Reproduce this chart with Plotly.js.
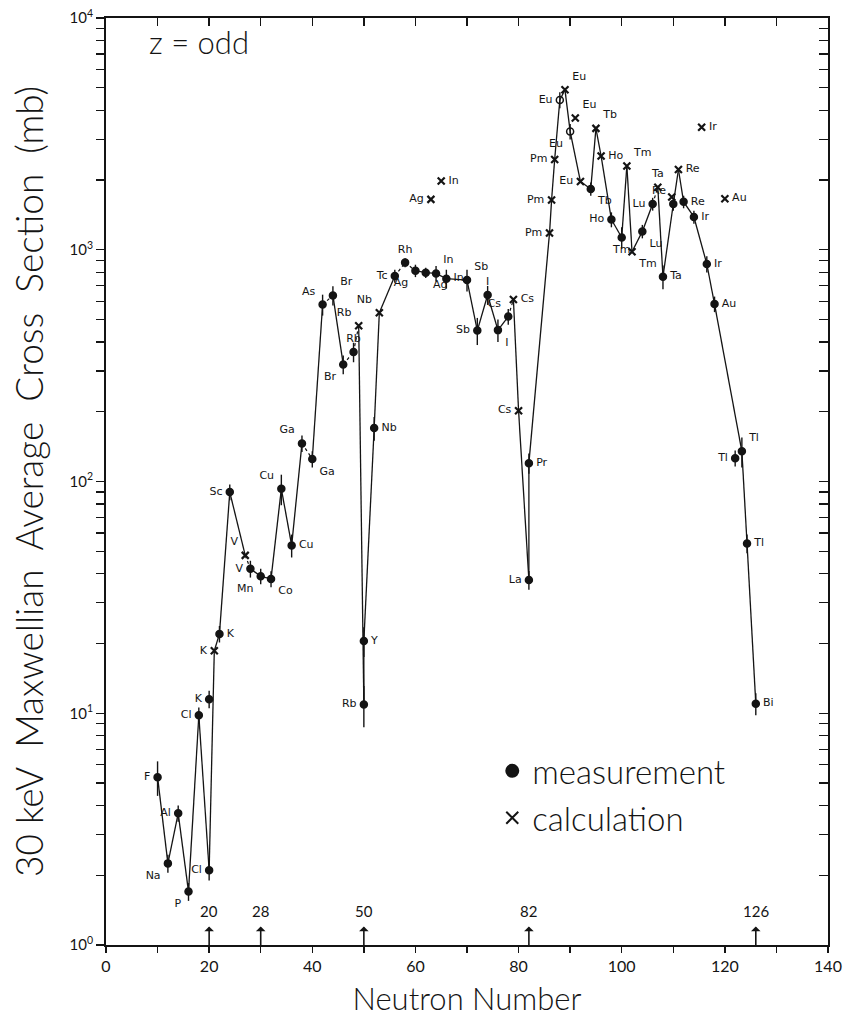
<!DOCTYPE html>
<html><head><meta charset="utf-8">
<script src="https://cdn.plot.ly/plotly-3.0.1.min.js"></script>
<style>html,body{margin:0;padding:0;background:#fff}#chart{width:843px;height:1032px}</style>
</head><body><div id="chart"></div>
<script>
// ---- measurement (filled circle with error bar) ----
const measElement = ['F','Na','Al','P','Cl','Cl','K','K','Sc','V','Mn','Co','Cu','Cu','Ga','Ga','As','Br','Br','Rb','Rb','Y','Nb','Tc','Rh','Ag','Ag','In','In','Sb','Sb','I','I','Cs','La','Pr','Eu','Eu','Tb','Ho','Tm','Lu','Lu','Ta','Re','Re','Ir','Ir','Au','Tl','Tl','Tl','Bi'];
const measN = [10,12,14,16,18,20,20,22,24,28,30,32,34,36,38,40,42,44,46,48,50,50,52,56,58,60,62,64,66,70,72,74,76,78,82,82,88,90,94,98,100,104,106,108,110,112,114,116.5,118,122,123.3,124.3,126];
const measSigma = [5.3,2.25,3.7,1.7,9.8,2.1,11.5,22,90,42,39,38,93,53,146,125,580,635,320,362,10.9,20.5,170,770,880,812,796,790,750,740,448,638,450,515,37.6,120,4430,3240,1830,1350,1130,1200,1575,765,1575,1610,1385,868,583,126,135,54,11];
const measErr = [0.9,0.2,0.3,0.15,0.8,0.2,1.0,1.8,7,3.5,3,3,14,6,12,10,60,60,30,35,2.2,3,20,50,40,50,40,60,70,80,60,60,50,40,3.5,12,350,250,120,100,120,80,100,90,100,100,90,70,45,10,20,5,1.2];

// ---- calculation (x) ----
const calcElement = ['K','V','Rb','Nb','Ag','In','Cs','Cs','Pm','Pm','Pm','Eu','Eu','Eu','Tb','Ho','Tm','Tm','Ta','Re','Re','Ir','Au'];
const calcN = [21,27,49,53,63,65,79,80,86,86.4,87,89,91,92,95,96,101,102,107,109.7,111,115.5,120];
const calcSigma = [18.6,48,470,535,1650,1980,610,202,1180,1640,2450,4900,3700,1970,3340,2540,2300,980,1860,1690,2220,3380,1660];

// ---- connecting line: order of points (id = element+N, 'c' prefix = calculation) ----
const linePath = ['F10','Na12','Al14','P16','Cl18','Cl20','cK21','K22','Sc24','cV27','V28','Mn30','Co32','Cu34','Cu36','Ga38','Ga40','As42','Br44','Br46','Rb48','cRb49','Rb50','Y50','Nb52','cNb53','Tc56','Rh58','Ag60','Ag62','In64','In66','Sb70','Sb72','I74','I76','Cs78','cCs79','cCs80','La82','Pr82','cPm86','cPm86.4','cPm87','Eu88','cEu89','Eu90','cEu92','Tb94','cTb95','cHo96','Ho98','Tm100','cTm101','cTm102','Lu104','Lu106','cTa107','Ta108','Re110','cRe111','Re112','Ir114','Ir116.5','Au118','Tl123.3','Tl124.3','Bi126'];
const dashedSegments = ['cV27>V28','Ga38>Ga40','As42>Br44','Br46>Rb48','Rb48>cRb49','Tc56>Rh58','Rh58>Ag60','Cs78>cCs79','Lu106>cTa107'];

// ---- magic numbers (label, drawn position) ----
const magicLabel = ['20','28','50','82','126'];
const magicPos = [20,30,50,82,126];

// ---- axis ticks ----
const xTickVals = [0,10,20,30,40,50,60,70,80,90,100,110,120,130,140];
const xTickText = ['0','','20','','40','','60','','80','','100','','120','','140'];
const yDecades = [1,10,100,1000,10000];
const yDecadeText = ['10<sup>0</sup>','10<sup>1</sup>','10<sup>2</sup>','10<sup>3</sup>','10<sup>4</sup>'];

// ---------------- build ----------------
const ink = '#141414';
const FONT = 'DejaVu Sans, Liberation Sans, sans-serif';
const TFONT = 'Lato, Open Sans, DejaVu Sans, sans-serif';

const measPos = ['middle left','bottom left','middle left','bottom left','middle left','middle left','middle left','middle right','middle left','middle left',
 'bottom left','bottom right','top left','middle right','top left','bottom right','top left','top right','bottom left','top center',
 'middle left','middle right','middle right','middle left','top center','bottom left','bottom right','top right','middle right','top right',
 'middle left','top center','bottom right','top left','middle left','middle right','middle left','bottom left','bottom right','middle left',
 'bottom center','bottom right','middle left','middle right','top left','middle right','middle right','middle right','middle right','middle left',
 'top right','middle right','middle right'];
const calcPos = ['middle left','top left','top left','top left','middle left','middle right','middle right','middle left','middle left','middle left','middle left',
 'top right','top right','middle left','top right','middle right','top right','bottom right','top center','middle left','middle right','middle right','middle right'];
const hiddenLabels = ['cRe109.7'];
const openMarkers = ['Eu88','Eu90'];

const measId = measElement.map((e,i)=>e+measN[i]);
const calcId = calcElement.map((e,i)=>'c'+e+calcN[i]);
const lookup = {};
measId.forEach((id,i)=>lookup[id]=[measN[i],measSigma[i]]);
calcId.forEach((id,i)=>lookup[id]=[calcN[i],calcSigma[i]]);

const solidX=[], solidY=[], dashX=[], dashY=[];
for (let i=0;i<linePath.length-1;i++){
  const a=lookup[linePath[i]], b=lookup[linePath[i+1]];
  const key=linePath[i]+'>'+linePath[i+1];
  if (dashedSegments.includes(key)) { dashX.push(a[0],b[0],null); dashY.push(a[1],b[1],null); }
  else { solidX.push(a[0],b[0],null); solidY.push(a[1],b[1],null); }
}

const traces = [
  {x:solidX, y:solidY, mode:'lines', line:{color:ink,width:1.3}, showlegend:false, hoverinfo:'skip'},
  {x:dashX, y:dashY, mode:'lines', line:{color:ink,width:1.2,dash:'3px,3px'}, showlegend:false, hoverinfo:'skip'},
  {x:measN, y:measSigma, mode:'markers', name:'measurement', legendgroup:'m',
   marker:{symbol:measId.map(id=>openMarkers.includes(id)?'circle-open':'circle'), size:7, color:ink, line:{color:ink,width:1.5}},
   error_y:{type:'data', array:measErr, visible:true, width:0, thickness:1.4, color:ink}},
  {x:calcN, y:calcSigma, mode:'markers', name:'calculation', legendgroup:'c',
   marker:{symbol:'x-thin', size:7, color:ink, line:{color:ink,width:2.2}}},
  {x:measN, y:measSigma, mode:'markers+text', text:measElement.map((e,i)=>hiddenLabels.includes(measId[i])?'':e), textposition:measPos,
   marker:{size:10, opacity:0}, textfont:{family:FONT,size:11,color:ink}, showlegend:false, hoverinfo:'skip', cliponaxis:false},
  {x:calcN, y:calcSigma, mode:'markers+text', text:calcElement.map((e,i)=>hiddenLabels.includes(calcId[i])?'':e), textposition:calcPos,
   marker:{size:10, opacity:0}, textfont:{family:FONT,size:11,color:ink}, showlegend:false, hoverinfo:'skip', cliponaxis:false},
  {x:[], y:[], xaxis:'x2', yaxis:'y2', mode:'markers', showlegend:false, hoverinfo:'skip'}
];

const yMinor=[]; yDecades.slice(0,4).forEach(d=>{for(let k=2;k<=9;k++) yMinor.push(k*d);});
const yTickVals = yDecades.concat(yMinor);
const yTickText = yDecadeText.concat(yMinor.map(()=>''));

const annotations = magicLabel.map((t,i)=>({
  x:magicPos[i], y:0, xref:'x', yref:'paper', text:t, showarrow:true, arrowside:'start',
  arrowhead:2, arrowsize:1.1, arrowwidth:1.6, arrowcolor:ink, ax:0, ay:-34, startstandoff:5,
  font:{family:TFONT,size:15,color:ink}
}));
annotations.push({x:0.129, y:0.974, xref:'paper', yref:'paper', xanchor:'center', yanchor:'middle', text:'z = odd', showarrow:false,
  font:{family:TFONT,size:31,weight:300,color:ink}});

const layout = {
  width:843, height:1032, paper_bgcolor:'#fff', plot_bgcolor:'#fff',
  margin:{l:106,r:15,t:18,b:87},
  font:{family:FONT,color:ink},
  showlegend:true,
  legend:{x:0.535, y:0.218, xanchor:'left', yanchor:'top', font:{family:TFONT,size:33,weight:300,color:ink},
    traceorder:'grouped', tracegroupgap:1, bgcolor:'rgba(0,0,0,0)', itemsizing:'constant'},
  xaxis:{range:[0,140], tickmode:'array', tickvals:xTickVals, ticktext:xTickText, ticks:'outside', ticklen:6, tickwidth:1.5,
    tickcolor:ink, showline:true, linewidth:2, linecolor:ink, showgrid:false, zeroline:false,
    tickfont:{family:TFONT,size:16,color:ink},
    title:{text:'Neutron Number', font:{family:TFONT,size:31,weight:300,color:ink}, standoff:14}},
  yaxis:{type:'log', range:[0,4], tickmode:'array', tickvals:yTickVals, ticktext:yTickText, ticks:'outside', ticklen:8, tickwidth:1.3,
    tickcolor:ink, showline:true, linewidth:2, linecolor:ink, showgrid:false, zeroline:false,
    tickfont:{family:TFONT,size:15,color:ink},
    title:{text:'30 keV  Maxwellian  Average  Cross  Section  (mb)', font:{family:TFONT,size:37,weight:300,color:ink}, standoff:15}},
  xaxis2:{overlaying:'x', side:'top', anchor:'y2', range:[0,140], tickmode:'array', tickvals:xTickVals, ticks:'inside', ticklen:8,
    tickwidth:1.5, tickcolor:ink, showticklabels:false, showline:true, linewidth:2, linecolor:ink, showgrid:false, zeroline:false},
  yaxis2:{overlaying:'y', side:'right', anchor:'x2', type:'log', range:[0,4], tickmode:'array', tickvals:yTickVals, ticks:'inside', ticklen:9,
    tickwidth:1.3, tickcolor:ink, showticklabels:false, showline:true, linewidth:2, linecolor:ink, showgrid:false, zeroline:false},
  annotations:annotations
};

Plotly.newPlot('chart', traces, layout, {staticPlot:true, displayModeBar:false});
</script>
</body></html>
